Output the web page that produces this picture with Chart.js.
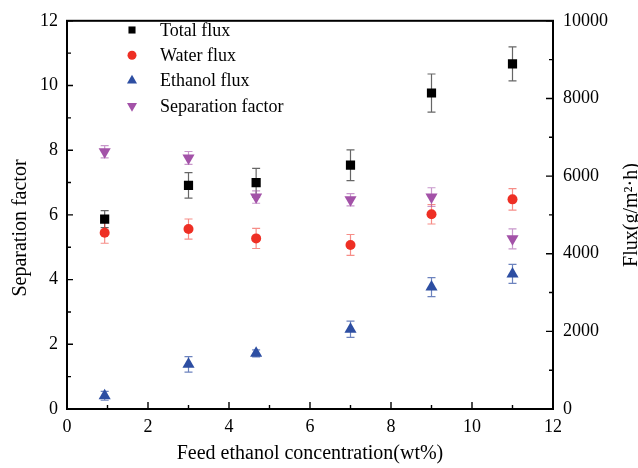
<!DOCTYPE html>
<html>
<head>
<meta charset="utf-8">
<script src="https://cdn.jsdelivr.net/npm/chart.js@4.4.1/dist/chart.umd.min.js"></script>
<style>
  html, body { margin: 0; padding: 0; background: #fff; }
  #chart { display: block; }
</style>
</head>
<body>
<canvas id="chart" width="638" height="468"></canvas>
<script>
// feed ethanol concentration (wt%)
const concentration = [0.93, 3.0, 4.67, 7.0, 9.0, 11.0];

// fluxes in g/m2.h (right axis)
const totalFlux = [4890, 5760, 5830, 6280, 8140, 8890];
const totalFluxErr = [220, 330, 370, 395, 490, 440];
const waterFlux = [4540, 4635, 4395, 4225, 5015, 5400];
const waterFluxErr = [270, 260, 260, 270, 250, 275];
const ethanolFlux = [340, 1150, 1435, 2055, 3140, 3480];
const ethanolFluxErr = [115, 200, 90, 210, 245, 245];

// separation factor (left axis)
const separationFactor = [7.95, 7.76, 6.55, 6.47, 6.55, 5.26];
const separationErr = [0.19, 0.2, 0.19, 0.19, 0.29, 0.31];

const xTicks = [0, 2, 4, 6, 8, 10, 12];
const sepTicks = [0, 2, 4, 6, 8, 10, 12];
const fluxTicks = [0, 2000, 4000, 6000, 8000, 10000];

const FONT = '"Liberation Serif", "Times New Roman", serif';

function points(ys) {
    return concentration.map((x, i) => ({ x: x, y: ys[i] }));
}

function drawMarker(ctx, style, x, y, r) {
    ctx.beginPath();
    if (style === 'rect') {
        const s = r * Math.SQRT1_2;
        ctx.rect(x - s, y - s, 2 * s, 2 * s);
    } else if (style === 'circle') {
        ctx.arc(x, y, r, 0, Math.PI * 2);
    } else {
        const dir = style === 'down' ? -1 : 1;
        ctx.moveTo(x, y - dir * r);
        ctx.lineTo(x + r * 0.866, y + dir * r * 0.5);
        ctx.lineTo(x - r * 0.866, y + dir * r * 0.5);
        ctx.closePath();
    }
    ctx.fill();
}

// error bars drawn under the markers
const errorBars = {
    id: 'errorBars',
    beforeDatasetsDraw(chart) {
        const ctx = chart.ctx;
        const xScale = chart.scales.x;
        chart.data.datasets.forEach((ds) => {
            const yScale = chart.scales[ds.yAxisID];
            ctx.save();
            ctx.strokeStyle = ds.errorColor;
            ctx.lineWidth = 1.2;
            ds.data.forEach((pt, j) => {
                const x = xScale.getPixelForValue(pt.x);
                const yTop = yScale.getPixelForValue(pt.y + ds.errors[j]);
                const yBot = yScale.getPixelForValue(pt.y - ds.errors[j]);
                ctx.beginPath();
                ctx.moveTo(x, yTop); ctx.lineTo(x, yBot);
                ctx.moveTo(x - 4, yTop); ctx.lineTo(x + 4, yTop);
                ctx.moveTo(x - 4, yBot); ctx.lineTo(x + 4, yBot);
                ctx.stroke();
            });
            ctx.restore();
        });
    }
};

// frame, inward ticks, y titles, legend
const decorations = {
    id: 'decorations',
    afterDraw(chart) {
        const { ctx, chartArea: a, scales } = chart;
        ctx.save();
        ctx.strokeStyle = '#000';
        ctx.lineWidth = 2;
        ctx.strokeRect(a.left, a.top, a.right - a.left, a.bottom - a.top);

        ctx.lineWidth = 1.4;
        ctx.beginPath();
        const xStep = (xTicks[1] - xTicks[0]) / 2;
        for (let v = xTicks[0]; v <= xTicks[xTicks.length - 1]; v += xStep) {
            const len = xTicks.includes(v) ? 7 : 4;
            const px = scales.x.getPixelForValue(v);
            ctx.moveTo(px, a.bottom); ctx.lineTo(px, a.bottom - len);
        }
        const sStep = (sepTicks[1] - sepTicks[0]) / 2;
        for (let v = sepTicks[0]; v <= sepTicks[sepTicks.length - 1]; v += sStep) {
            const len = sepTicks.includes(v) ? 6 : 4;
            const py = scales.y.getPixelForValue(v);
            ctx.moveTo(a.left, py); ctx.lineTo(a.left + len, py);
        }
        const fStep = (fluxTicks[1] - fluxTicks[0]) / 2;
        for (let v = fluxTicks[0]; v <= fluxTicks[fluxTicks.length - 1]; v += fStep) {
            const len = fluxTicks.includes(v) ? 7 : 4;
            const py = scales.y2.getPixelForValue(v);
            ctx.moveTo(a.right, py); ctx.lineTo(a.right - len, py);
        }
        ctx.stroke();

        // y axis titles, both reading bottom to top
        ctx.fillStyle = '#000';
        ctx.font = '20px ' + FONT;
        ctx.textAlign = 'center';
        ctx.textBaseline = 'alphabetic';
        ctx.save();
        ctx.translate(26, 228);
        ctx.rotate(-Math.PI / 2);
        ctx.fillText('Separation factor', 0, 0);
        ctx.restore();
        ctx.save();
        ctx.translate(637, 215);
        ctx.rotate(-Math.PI / 2);
        ctx.fillText('Flux(g/m\u00B2\u00B7h)', 0, 0);
        ctx.restore();

        // legend
        ctx.font = '18px ' + FONT;
        ctx.textAlign = 'left';
        ctx.textBaseline = 'middle';
        chart.data.datasets.forEach((ds, i) => {
            const y = 30 + i * 25.3;
            ctx.fillStyle = ds.backgroundColor;
            drawMarker(ctx, ds.marker, 132, y, ds.marker === 'rect' ? 5 : (ds.marker === 'circle' ? 4.5 : 5.8));
            ctx.fillStyle = '#000';
            ctx.fillText(ds.label, 160, y + 1);
        });
        ctx.restore();
    }
};

const chart = new Chart(document.getElementById('chart'), {
    type: 'scatter',
    data: {
        datasets: [
            {
                label: 'Total flux',
                data: points(totalFlux),
                errors: totalFluxErr,
                yAxisID: 'y2',
                marker: 'rect',
                pointStyle: 'rect',
                pointRadius: 6.5,
                backgroundColor: '#000000',
                borderColor: '#000000',
                errorColor: 'rgba(0, 0, 0, 0.6)'
            },
            {
                label: 'Water flux',
                data: points(waterFlux),
                errors: waterFluxErr,
                yAxisID: 'y2',
                marker: 'circle',
                pointStyle: 'circle',
                pointRadius: 5,
                backgroundColor: '#ee2f24',
                borderColor: '#ee2f24',
                errorColor: 'rgba(238, 47, 36, 0.55)'
            },
            {
                label: 'Ethanol flux',
                data: points(ethanolFlux),
                errors: ethanolFluxErr,
                yAxisID: 'y2',
                marker: 'up',
                pointStyle: 'triangle',
                pointRadius: 7,
                backgroundColor: '#2d4ea2',
                borderColor: '#2d4ea2',
                errorColor: 'rgba(45, 78, 162, 0.7)'
            },
            {
                label: 'Separation factor',
                data: points(separationFactor),
                errors: separationErr,
                yAxisID: 'y',
                marker: 'down',
                pointStyle: 'triangle',
                rotation: 180,
                pointRotation: 180,
                pointRadius: 7,
                backgroundColor: '#a352a8',
                borderColor: '#a352a8',
                errorColor: 'rgba(163, 82, 168, 0.6)'
            }
        ]
    },
    options: {
        responsive: false,
        animation: false,
        events: [],
        layout: { padding: { top: 17, left: 0, right: 0, bottom: 0 } },
        elements: { point: { borderWidth: 0 } },
        plugins: {
            legend: { display: false },
            tooltip: { enabled: false }
        },
        scales: {
            x: {
                type: 'linear',
                min: 0,
                max: 12,
                afterBuildTicks: (s) => { s.ticks = xTicks.map(v => ({ value: v })); },
                afterFit: (s) => { s.height = 59; },
                grid: { display: false, drawTicks: false },
                border: { display: false },
                ticks: { padding: 7, color: '#000', font: { family: FONT, size: 18 } },
                title: {
                    display: true,
                    text: 'Feed ethanol concentration(wt%)',
                    color: '#000',
                    font: { family: FONT, size: 20 },
                    padding: { top: 0, bottom: 2 }
                }
            },
            y: {
                type: 'linear',
                position: 'left',
                min: 0,
                max: 12,
                afterBuildTicks: (s) => { s.ticks = sepTicks.map(v => ({ value: v })); },
                afterFit: (s) => { s.width = 67; },
                grid: { display: false, drawTicks: false },
                border: { display: false },
                ticks: { padding: 9, color: '#000', font: { family: FONT, size: 18 } }
            },
            y2: {
                type: 'linear',
                position: 'right',
                min: 0,
                max: 10000,
                afterBuildTicks: (s) => { s.ticks = fluxTicks.map(v => ({ value: v })); },
                afterFit: (s) => { s.width = 85; },
                grid: { display: false, drawTicks: false },
                border: { display: false },
                ticks: {
                    padding: 10,
                    color: '#000',
                    font: { family: FONT, size: 18 },
                    callback: (v) => String(v)
                }
            }
        }
    },
    plugins: [errorBars, decorations]
});
</script>
</body>
</html>
